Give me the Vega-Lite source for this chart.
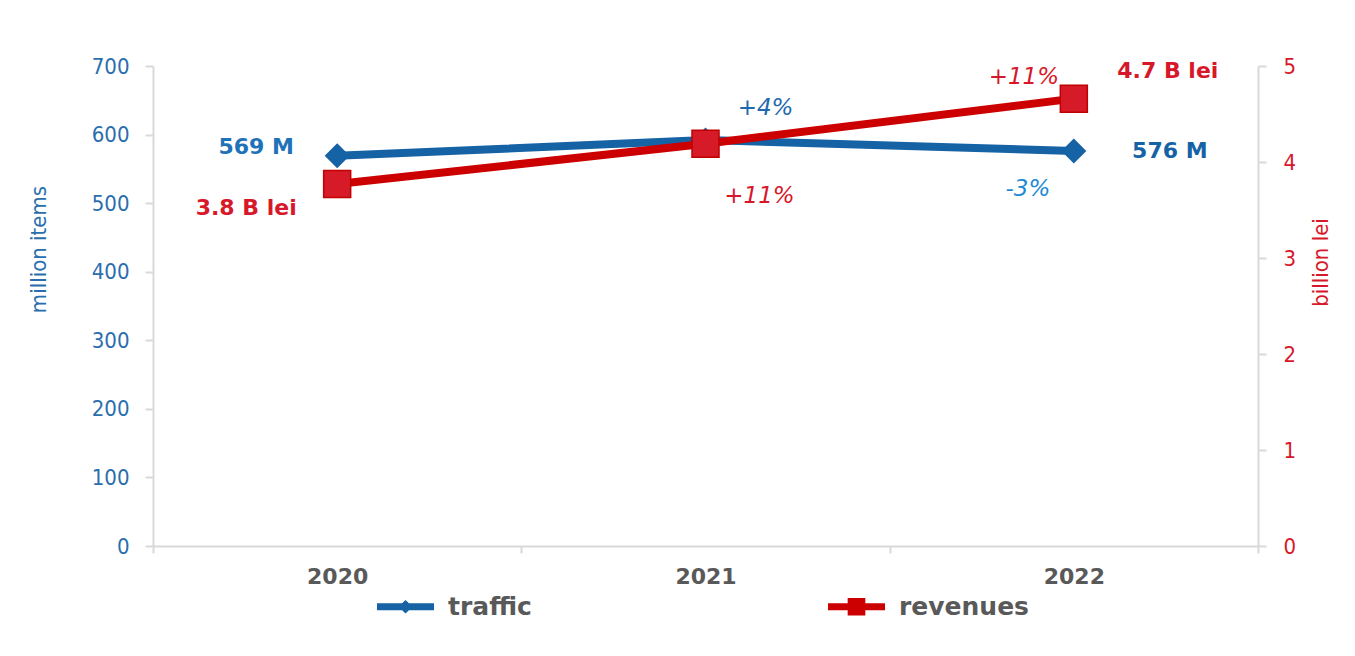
{
  "$schema": "https://vega.github.io/schema/vega-lite/v6.json",
  "width": 1105,
  "height": 480,
  "autosize": {"type": "none"},
  "padding": {"left": 153, "top": 66, "right": 97, "bottom": 110},
  "background": "white",
  "config": {
    "view": {"stroke": null},
    "font": "DejaVu Sans"
  },
  "data": {
    "values": [
      {"year": "2020", "series": "traffic", "value": 569, "label": "569 M", "change": null},
      {"year": "2021", "series": "traffic", "value": 592, "label": null, "change": "+4%"},
      {"year": "2022", "series": "traffic", "value": 576, "label": "576 M", "change": "-3%"},
      {"year": "2020", "series": "revenues", "value": 3.77, "label": "3.8 B lei", "change": null},
      {"year": "2021", "series": "revenues", "value": 4.19, "label": null, "change": "+11%"},
      {"year": "2022", "series": "revenues", "value": 4.66, "label": "4.7 B lei", "change": "+11%"}
    ]
  },
  "encoding": {
    "x": {
      "field": "year",
      "type": "ordinal",
      "bandPosition": 0.5,
      "scale": {"type": "band", "paddingInner": 0, "paddingOuter": 0},
      "axis": {
        "title": null,
        "tickBand": "extent",
        "labelAngle": 0,
        "labelFont": "DejaVu Sans",
        "labelFontWeight": "bold",
        "labelFontSize": 22,
        "labelColor": "#595959",
        "labelPadding": 13,
        "domainColor": "#d9d9d9",
        "domainWidth": 2,
        "tickColor": "#d9d9d9",
        "tickWidth": 2,
        "tickSize": 7
      }
    }
  },
  "layer": [
    {
      "transform": [{"filter": "datum.series == 'traffic'"}],
      "encoding": {
        "y": {
          "field": "value",
          "type": "quantitative",
          "scale": {"domain": [0, 700], "nice": false},
          "axis": {
            "orient": "left",
            "title": "million items",
            "values": [0, 100, 200, 300, 400, 500, 600, 700],
            "grid": false,
            "labelFont": "DejaVu Sans Condensed",
            "labelFontSize": 22,
            "labelColor": "#2a6ead",
            "labelPadding": 16,
            "domainColor": "#d9d9d9",
            "domainWidth": 2,
            "tickColor": "#d9d9d9",
            "tickWidth": 2,
            "tickSize": 8,
            "titleFont": "DejaVu Sans Condensed",
            "titleFontSize": 22,
            "titleFontWeight": "normal",
            "titleColor": "#2a6ead",
            "titleAngle": 270,
            "titleAlign": "center",
            "titleBaseline": "middle",
            "titleX": -115,
            "titleY": 183
          }
        }
      },
      "layer": [
        {
          "mark": {"type": "line", "strokeWidth": 8, "strokeCap": "round"},
          "encoding": {
            "color": {
              "field": "series",
              "type": "nominal",
              "scale": {"domain": ["traffic", "revenues"], "range": ["#1562a5", "#cc0000"]},
              "legend": {
                "title": null,
                "orient": "none",
                "direction": "horizontal",
                "legendX": 224,
                "legendY": 512,
                "padding": 0,
                "symbolSize": 3249,
                "columnPadding": 296,
                "labelOffset": 14,
                "labelFont": "DejaVu Sans",
                "labelFontWeight": "bold",
                "labelFontSize": 25,
                "labelColor": "#595959",
                "encode": {
                  "symbols": {
                    "update": {
                      "shape": {"signal": "datum.value == 'traffic' ? 'M-1,-0.12L-0.12,-0.12L0,-0.24L0.12,-0.12L1,-0.12L1,0.12L0.12,0.12L0,0.24L-0.12,0.12L-1,0.12Z' : 'M-1,-0.12L-0.31,-0.12L-0.31,-0.31L0.31,-0.31L0.31,-0.12L1,-0.12L1,0.12L0.31,0.12L0.31,0.31L-0.31,0.31L-0.31,0.12L-1,0.12Z'"},
                      "fill": {"signal": "datum.value == 'traffic' ? '#1562a5' : '#cc0000'"},
                      "fillOpacity": {"value": 1},
                      "strokeWidth": {"value": 0}
                    }
                  }
                }
              }
            }
          }
        },
        {
          "mark": {"type": "point", "shape": "diamond", "size": 625, "filled": true, "color": "#1562a5", "opacity": 1}
        },
        {
          "transform": [{"filter": "datum.year == '2020'"}],
          "mark": {"type": "text", "dx": -81, "dy": -9, "align": "center", "baseline": "middle", "font": "DejaVu Sans", "fontWeight": "bold", "fontSize": 22, "color": "#1f72b8"},
          "encoding": {"text": {"field": "label"}}
        },
        {
          "transform": [{"filter": "datum.year == '2022'"}],
          "mark": {"type": "text", "dx": 96, "dy": 0, "align": "center", "baseline": "middle", "font": "DejaVu Sans", "fontWeight": "bold", "fontSize": 22, "color": "#1562a5"},
          "encoding": {"text": {"field": "label"}}
        },
        {
          "transform": [{"filter": "datum.year == '2021'"}],
          "mark": {"type": "text", "dx": 60, "dy": -32, "align": "center", "baseline": "middle", "font": "DejaVu Sans", "fontStyle": "italic", "fontSize": 23, "color": "#1f6aae"},
          "encoding": {"text": {"field": "change"}}
        },
        {
          "transform": [{"filter": "datum.year == '2022'"}],
          "mark": {"type": "text", "dx": -46, "dy": 38, "align": "center", "baseline": "middle", "font": "DejaVu Sans", "fontStyle": "italic", "fontSize": 23, "color": "#1e8ad6"},
          "encoding": {"text": {"field": "change"}}
        }
      ]
    },
    {
      "transform": [{"filter": "datum.series == 'revenues'"}],
      "encoding": {
        "y": {
          "field": "value",
          "type": "quantitative",
          "scale": {"domain": [0, 5], "nice": false},
          "axis": {
            "orient": "right",
            "title": "billion lei",
            "values": [0, 1, 2, 3, 4, 5],
            "grid": false,
            "labelFont": "DejaVu Sans Condensed",
            "labelFontSize": 22,
            "labelColor": "#d7182a",
            "labelPadding": 17,
            "domainColor": "#d9d9d9",
            "domainWidth": 2,
            "tickColor": "#d9d9d9",
            "tickWidth": 2,
            "tickSize": 8,
            "titleFont": "DejaVu Sans Condensed",
            "titleFontSize": 22,
            "titleFontWeight": "normal",
            "titleColor": "#d7182a",
            "titleAngle": 270,
            "titleAlign": "center",
            "titleBaseline": "middle",
            "titleX": 62,
            "titleY": 196
          }
        }
      },
      "layer": [
        {
          "mark": {"type": "line", "strokeWidth": 8, "strokeCap": "round"},
          "encoding": {
            "color": {"field": "series", "type": "nominal"}
          }
        },
        {
          "mark": {"type": "point", "shape": "square", "size": 729, "filled": true, "fill": "#d71a28", "stroke": "#c00000", "strokeWidth": 1.5, "opacity": 1, "fillOpacity": 1}
        },
        {
          "transform": [{"filter": "datum.year == '2020'"}],
          "mark": {"type": "text", "dx": -91, "dy": 24, "align": "center", "baseline": "middle", "font": "DejaVu Sans", "fontWeight": "bold", "fontSize": 22, "color": "#d7182a"},
          "encoding": {"text": {"field": "label"}}
        },
        {
          "transform": [{"filter": "datum.year == '2022'"}],
          "mark": {"type": "text", "dx": 94, "dy": -28, "align": "center", "baseline": "middle", "font": "DejaVu Sans", "fontWeight": "bold", "fontSize": 22, "color": "#d7182a"},
          "encoding": {"text": {"field": "label"}}
        },
        {
          "transform": [{"filter": "datum.year == '2021'"}],
          "mark": {"type": "text", "dx": 54, "dy": 52, "align": "center", "baseline": "middle", "font": "DejaVu Sans", "fontStyle": "italic", "fontSize": 23, "color": "#d7182a"},
          "encoding": {"text": {"field": "change"}}
        },
        {
          "transform": [{"filter": "datum.year == '2022'"}],
          "mark": {"type": "text", "dx": -50, "dy": -22, "align": "center", "baseline": "middle", "font": "DejaVu Sans", "fontStyle": "italic", "fontSize": 23, "color": "#d7182a"},
          "encoding": {"text": {"field": "change"}}
        }
      ]
    }
  ],
  "resolve": {"scale": {"y": "independent"}}
}
